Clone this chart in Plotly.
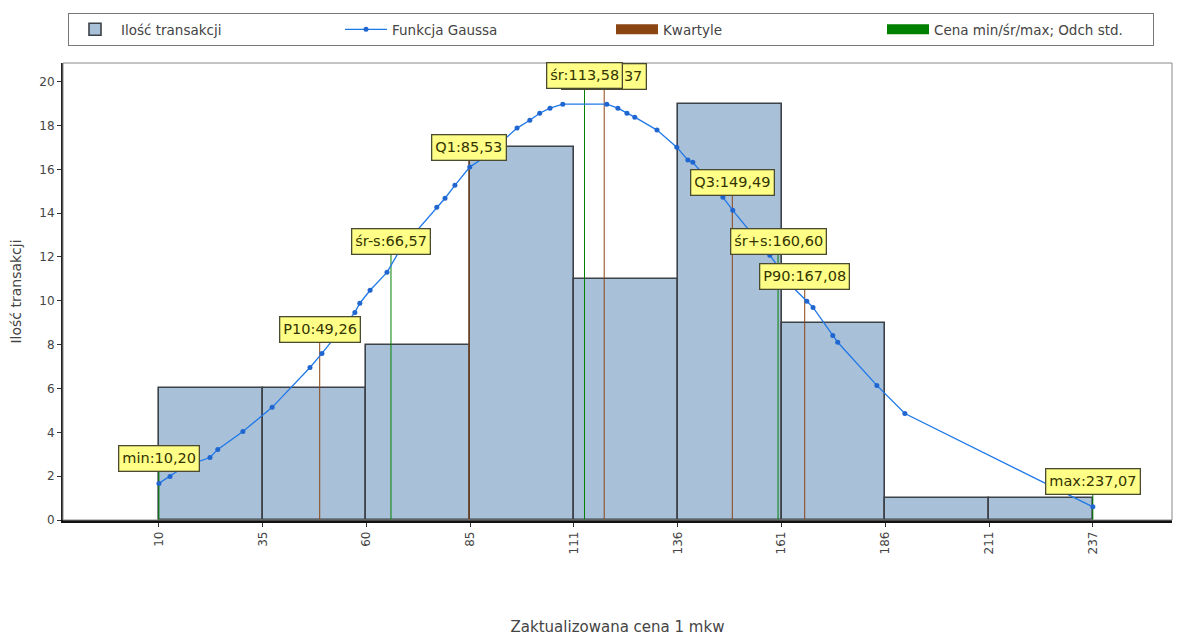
import plotly.graph_objects as go

# ---- data ----
bin_edges = [10.20, 35.41, 60.62, 85.82, 111.03, 136.24, 161.45, 186.66, 211.86, 237.07]
tick_labels = ["10", "35", "60", "85", "111", "136", "161", "186", "211", "237"]
counts = [6, 6, 8, 17, 11, 19, 9, 1, 1]

gauss_x = [10.2, 12.9, 16.5, 22.6, 24.5, 30.6, 37.7, 46.9, 49.8, 57.8, 59.0, 61.5, 65.6, 68.7,
           77.7, 79.7, 82.1, 85.7, 88.9, 97.2, 100.3, 102.7, 105.2, 108.3, 119.0, 121.7,
           123.9, 125.8, 131.2, 136.0, 138.7, 139.9, 147.2, 149.6, 158.6, 164.2, 167.6,
           169.1, 173.9, 175.1, 184.6, 191.4, 237.07]
gauss_y = [1.67, 1.99, 2.45, 2.85, 3.22, 4.04, 5.14, 6.96, 7.60, 9.47, 9.89, 10.48, 11.30, 12.3,
           14.27, 14.68, 15.27, 16.10, 16.50, 17.88, 18.24, 18.56, 18.79, 18.97, 18.97, 18.79,
           18.56, 18.38, 17.79, 17.01, 16.42, 16.32, 14.73, 14.13, 12.08, 10.62, 9.98,
           9.70, 8.42, 8.11, 6.14, 4.86, 0.60]

# quartiles / percentiles (brown)
quart_names = ["P10", "Q1", "Me", "Q3", "P90"]
quart_values = [49.26, 85.53, 118.37, 149.49, 167.08]
quart_label_y = [8.7, 17.0, 20.25, 15.4, 11.1]

# price min/mean/max and std (green)
price_names = ["min", "śr-s", "śr", "śr+s", "max"]
price_values = [10.20, 66.57, 113.58, 160.60, 237.07]
price_label_y = [2.8, 12.7, 20.3, 12.7, 1.76]

BAR_FILL = "#a9c0d9"
BAR_EDGE = "#3c4248"
GAUSS = "#1f78e8"
BROWN = "#8b4513"
GREEN = "#008000"
FONT = "DejaVu Sans, Verdana, sans-serif"

# the page body has an 8px margin, so the figure is sized to fit the 1185x636 window
FIG_W, FIG_H = 1177, 628

centers = [(a + b) / 2 for a, b in zip(bin_edges[:-1], bin_edges[1:])]
widths = [b - a for a, b in zip(bin_edges[:-1], bin_edges[1:])]

fig = go.Figure()

fig.add_trace(go.Bar(
    x=centers, y=counts, width=widths,
    marker=dict(color=BAR_FILL, line=dict(color=BAR_EDGE, width=1.6)),
    name="Ilość transakcji", showlegend=True,
))


def vlines(values, tops):
    xs, ys = [], []
    for v, t in zip(values, tops):
        xs += [v, v, None]
        ys += [0, t, None]
    return xs, ys


qx, qy = vlines(quart_values, quart_label_y)
px_, py_ = vlines(price_values, price_label_y)
fig.add_trace(go.Scatter(x=qx, y=qy, mode="lines", line=dict(color=BROWN, width=1),
                         showlegend=False, hoverinfo="skip"))
fig.add_trace(go.Scatter(x=px_, y=py_, mode="lines", line=dict(color=GREEN, width=1),
                         showlegend=False, hoverinfo="skip"))

fig.add_trace(go.Scatter(
    x=gauss_x, y=gauss_y, mode="lines+markers",
    line=dict(color=GAUSS, width=1.3),
    marker=dict(color="#1f66d0", size=5),
    name="Funkcja Gaussa",
))

# legend-only swatches
fig.add_trace(go.Scatter(x=[None], y=[None], mode="lines", line=dict(color=BROWN, width=13),
                         name="Kwartyle"))
fig.add_trace(go.Scatter(x=[None], y=[None], mode="lines", line=dict(color=GREEN, width=13),
                         name="Cena min/śr/max; Odch std."))


def fmt(v):
    return f"{v:.2f}".replace(".", ",")


# annotation order: median first so the "śr" label covers it
labels = []
for n, v, t in zip(price_names, price_values, price_label_y):
    labels.append((n, v, t))
for n, v, t in zip(quart_names, quart_values, quart_label_y):
    labels.append((n, v, t))
labels.sort(key=lambda r: 0 if r[0] == "Me" else 1)

for n, v, t in labels:
    txt = f"{n}:{fmt(v)}"
    fig.add_annotation(
        x=v, y=t, text=txt, showarrow=False,
        font=dict(family=FONT, size=14.5, color="#333300"),
        bgcolor="#ffff88", bordercolor="#4a4a30", borderwidth=1.3, borderpad=3,
        height=18,
        xanchor="center", yanchor="middle",
    )

fig.add_shape(type="rect", xref="paper", yref="paper", x0=0, y0=0, x1=1, y1=1,
              line=dict(color="#888888", width=1), layer="above")

fig.update_layout(
    width=FIG_W, height=FIG_H,
    margin=dict(l=55, r=13, t=55, b=116, autoexpand=False),
    plot_bgcolor="white", paper_bgcolor="white",
    font=dict(family=FONT, size=11, color="#444444"),
    bargap=0,
    legend=dict(
        orientation="h", xref="container", yref="container",
        x=60 / FIG_W, y=1 - 5 / FIG_H, xanchor="left", yanchor="top",
        bordercolor="#777777", borderwidth=1,
        entrywidth=214, entrywidthmode="pixels",
        font=dict(family=FONT, size=13.5, color="#444444"), itemwidth=42,
    ),
    xaxis=dict(
        range=[-13.1, 256.3], tickmode="array", tickvals=bin_edges, ticktext=tick_labels,
        tickangle=-90, ticks="outside", ticklen=4, tickcolor="#333333",
        tickfont=dict(size=12),
        showgrid=False, zeroline=False, showline=True, linecolor="#111111", linewidth=2.5,
        automargin=False,
        title=dict(text="Zaktualizowana cena 1 mkw", standoff=73, font=dict(size=15)),
    ),
    yaxis=dict(
        range=[0, 20.85], dtick=2, ticks="outside", ticklen=4, tickcolor="#333333",
        tickfont=dict(size=12),
        showgrid=False, zeroline=False, showline=True, linecolor="#222222", linewidth=2,
        automargin=False,
        title=dict(text="Ilość transakcji", standoff=14, font=dict(size=14)),
    ),
)

fig.write_html("out.html")
